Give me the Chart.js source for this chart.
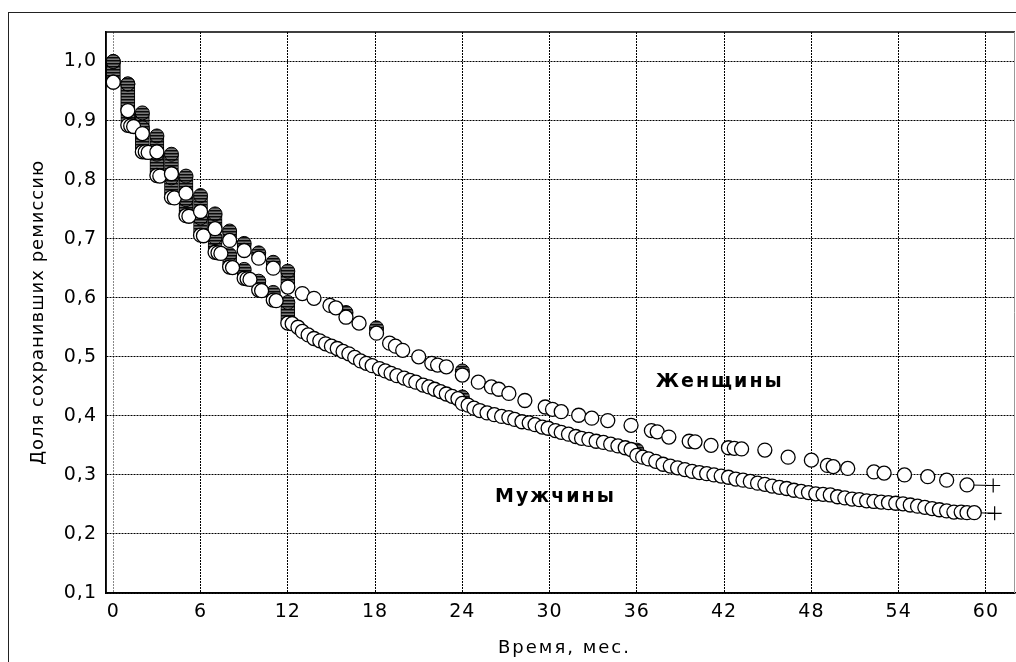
<!DOCTYPE html>
<html>
<head>
<meta charset="utf-8">
<script src="https://cdn.jsdelivr.net/npm/chart.js@4.4.0/dist/chart.umd.min.js"></script>
<style>
    html, body { margin: 0; padding: 0; background: #fff; }
    #wrap { position: relative; width: 1016px; height: 662px; overflow: hidden; }
    #frame { position: absolute; left: 8px; top: 12px; width: 2000px; height: 2000px; border: 1px solid #222; }
    canvas { position: absolute; left: 0; top: 0; }
</style>
</head>
<body>
<div id="wrap">
    <div id="frame"></div>
    <canvas id="myChart" width="1016" height="662"></canvas>
</div>
<script>
    // оси
    var xTicks = [0, 6, 12, 18, 24, 30, 36, 42, 48, 54, 60];
    var yTicks = [0.1, 0.2, 0.3, 0.4, 0.5, 0.6, 0.7, 0.8, 0.9, 1.0];

    // женщины: кружки (месяц, доля сохранивших ремиссию)
    var womenMonths = [0, 1, 2, 3, 4, 5, 6, 7, 8, 9,
        10, 11, 12, 13, 13.8, 14.9, 15.3, 16, 16.9, 18.1,
        19, 19.4, 19.9, 21, 21.9, 22.3, 22.9, 24, 25.1, 26,
        26.5, 27.2, 28.3, 29.7, 30.2, 30.8, 32, 32.9, 34, 35.6,
        37, 37.4, 38.2, 39.6, 40, 41.1, 42.3, 42.7, 43.2, 44.8,
        46.4, 48, 49.1, 49.5, 50.5, 52.3, 53, 54.4, 56, 57.3,
        58.7];
    var womenShare = [0.965, 0.917, 0.878, 0.847, 0.810, 0.777, 0.746, 0.717, 0.697, 0.680,
        0.667, 0.650, 0.618, 0.607, 0.599, 0.587, 0.583, 0.567, 0.557, 0.540,
        0.523, 0.518, 0.511, 0.500, 0.489, 0.486, 0.483, 0.469, 0.457, 0.449,
        0.445, 0.438, 0.426, 0.415, 0.411, 0.407, 0.401, 0.396, 0.392, 0.384,
        0.375, 0.373, 0.364, 0.357, 0.356, 0.350, 0.346, 0.345, 0.344, 0.342,
        0.330, 0.325, 0.316, 0.314, 0.311, 0.305, 0.303, 0.300, 0.297, 0.291,
        0.283];

    // мужчины
    var menMonths = [0, 1, 1.2, 1.4, 2, 2.2, 2.4, 3, 3.2, 4,
        4.2, 5, 5.2, 6, 6.2, 7, 7.2, 7.4, 8, 8.2,
        9, 9.2, 9.4, 10, 10.2, 11, 11.2, 12, 12.3, 12.7,
        13, 13.4, 13.8, 14.2, 14.6, 15, 15.4, 15.8, 16.2, 16.6,
        17, 17.4, 17.8, 18.3, 18.7, 19.1, 19.5, 20, 20.4, 20.8,
        21.3, 21.7, 22.1, 22.5, 22.9, 23.3, 23.7, 24, 24.4, 24.8,
        25.2, 25.7, 26.2, 26.7, 27.2, 27.6, 28.1, 28.6, 29, 29.5,
        29.9, 30.4, 30.8, 31.3, 31.8, 32.2, 32.7, 33.2, 33.7, 34.2,
        34.7, 35.2, 35.6, 36, 36.4, 36.8, 37.3, 37.8, 38.3, 38.8,
        39.3, 39.8, 40.3, 40.8, 41.3, 41.8, 42.3, 42.8, 43.3, 43.8,
        44.3, 44.8, 45.3, 45.8, 46.3, 46.8, 47.3, 47.8, 48.3, 48.8,
        49.3, 49.8, 50.3, 50.8, 51.3, 51.8, 52.3, 52.8, 53.3, 53.8,
        54.3, 54.8, 55.3, 55.8, 56.3, 56.8, 57.3, 57.8, 58.3, 58.7, 59.2];
    var menShare = [0.965, 0.892, 0.891, 0.890, 0.847, 0.847, 0.846, 0.807, 0.806, 0.770,
        0.769, 0.739, 0.738, 0.706, 0.705, 0.677, 0.676, 0.675, 0.652, 0.651,
        0.633, 0.632, 0.631, 0.613, 0.612, 0.596, 0.595, 0.557, 0.556, 0.550,
        0.543, 0.537, 0.531, 0.527, 0.522, 0.518, 0.514, 0.509, 0.505, 0.499,
        0.493, 0.489, 0.485, 0.480, 0.476, 0.472, 0.468, 0.464, 0.460, 0.457,
        0.452, 0.449, 0.445, 0.441, 0.437, 0.433, 0.429, 0.421, 0.418, 0.413,
        0.409, 0.405, 0.402, 0.399, 0.397, 0.394, 0.390, 0.388, 0.385, 0.381,
        0.379, 0.375, 0.372, 0.369, 0.365, 0.362, 0.360, 0.357, 0.355, 0.352,
        0.349, 0.346, 0.343, 0.333, 0.330, 0.327, 0.323, 0.318, 0.315, 0.312,
        0.309, 0.306, 0.304, 0.302, 0.300, 0.298, 0.296, 0.293, 0.291, 0.289,
        0.286, 0.284, 0.281, 0.279, 0.277, 0.274, 0.272, 0.270, 0.268, 0.267,
        0.266, 0.263, 0.261, 0.259, 0.258, 0.256, 0.255, 0.254, 0.253, 0.252,
        0.251, 0.249, 0.247, 0.245, 0.243, 0.241, 0.239, 0.237, 0.237, 0.236, 0.236];

    // столбики из наложенных кружков (много событий в один месяц)
    var womenStackMonths = [0, 1, 2, 3, 4, 5, 6, 7, 8, 9, 10, 11, 12, 16, 18.1, 24];
    var womenStackTop = [1.0, 0.962, 0.913, 0.874, 0.843, 0.806, 0.773, 0.742, 0.713, 0.692, 0.676, 0.660, 0.645, 0.575, 0.549, 0.476];
    var womenStackBottom = [0.965, 0.917, 0.878, 0.847, 0.810, 0.777, 0.746, 0.717, 0.697, 0.680, 0.667, 0.650, 0.618, 0.567, 0.540, 0.469];
    var menStackMonths = [0, 1, 2, 3, 4, 5, 6, 7, 8, 9, 10, 11, 12, 24, 36];
    var menStackTop = [1.0, 0.962, 0.888, 0.843, 0.803, 0.766, 0.735, 0.702, 0.673, 0.648, 0.628, 0.609, 0.592, 0.432, 0.342];
    var menStackBottom = [0.965, 0.892, 0.847, 0.807, 0.770, 0.739, 0.706, 0.677, 0.652, 0.633, 0.613, 0.596, 0.557, 0.421, 0.333];

    // цензурированные (женщины, мужчины)
    var censorMonths = [60.5, 60.6];
    var censorShare = [0.282, 0.235];

    // подписи кривых
    var noteLabels = ['Женщины', 'Мужчины'];
    var noteMonths = [41.7, 30.4];
    var noteShare = [0.457, 0.262];

    var ctx = document.getElementById('myChart');
    var c2d = ctx.getContext('2d');

    // полосатая заливка для столбиков
    var patCanvas = document.createElement('canvas');
    patCanvas.width = 4;
    patCanvas.height = 3;
    var pc = patCanvas.getContext('2d');
    pc.fillStyle = '#444';
    pc.fillRect(0, 0, 4, 3);
    pc.fillStyle = '#0a0a0a';
    pc.fillRect(0, 0, 4, 1);
    pc.fillStyle = '#777';
    pc.fillRect(0, 2, 4, 1);
    var stripes = c2d.createPattern(patCanvas, 'repeat');

    function points(xs, ys) {
        return xs.map(function (x, i) { return { x: x, y: ys[i] }; });
    }
    function ranges(xs, lo, hi) {
        return xs.map(function (x, i) { return { x: x, y: [lo[i], hi[i]] }; });
    }

    var FONT = '"DejaVu Sans", sans-serif';

    var extras = {
        id: 'extras',
        beforeDraw: function (chart) {
            chart.ctx.letterSpacing = '1px';
        },
        afterDatasetsDraw: function (chart) {
            var c = chart.ctx, xs = chart.scales.x, ys = chart.scales.y;
            c.save();
            c.font = 'bold 19px ' + FONT;
            c.letterSpacing = '2px';
            c.fillStyle = '#000';
            c.textAlign = 'center';
            c.textBaseline = 'middle';
            noteLabels.forEach(function (t, i) {
                c.fillText(t, xs.getPixelForValue(noteMonths[i]), ys.getPixelForValue(noteShare[i]));
            });
            c.restore();
        },
        afterDraw: function (chart) {
            var c = chart.ctx, a = chart.chartArea;
            c.save();
            c.letterSpacing = '0px';
            c.lineWidth = 1.5;
            c.strokeStyle = '#000';
            c.beginPath();
            c.moveTo(a.right, a.top);
            c.lineTo(a.left, a.top);
            c.lineTo(a.left, a.bottom);
            c.lineTo(a.right, a.bottom);
            c.stroke();
            c.strokeStyle = '#999';
            c.lineWidth = 1;
            c.beginPath();
            c.moveTo(a.right - 0.5, a.top);
            c.lineTo(a.right - 0.5, a.bottom);
            c.stroke();

            c.fillStyle = '#000';
            c.textAlign = 'center';
            c.textBaseline = 'middle';
            c.font = '18px ' + FONT;
            c.letterSpacing = '2px';
            c.fillText('Время, мес.', (a.left + a.right) / 2 + 4, 648);
            c.letterSpacing = '1px';
            c.translate(38, (a.top + a.bottom) / 2);
            c.rotate(-Math.PI / 2);
            c.fillText('Доля сохранивших ремиссию', 0, 0);
            c.restore();
        }
    };

    var circle = {
        pointStyle: 'circle',
        pointRadius: 7,
        pointHoverRadius: 7,
        pointBackgroundColor: '#fff',
        pointBorderColor: '#000',
        pointBorderWidth: 1.3
    };

    var myChart = new Chart(ctx, {
        type: 'scatter',
        data: {
            datasets: [
                Object.assign({ label: 'Женщины', data: points(womenMonths, womenShare), order: 0 }, circle),
                Object.assign({ label: 'Мужчины', data: points(menMonths, menShare), order: 1 }, circle),
                {
                    type: 'line', label: 'w-tail', order: 2,
                    data: [{ x: womenMonths[womenMonths.length - 1], y: womenShare[womenShare.length - 1] },
                           { x: censorMonths[0], y: censorShare[0] }],
                    borderColor: '#000', borderWidth: 1,
                    pointRadius: [0, 7], pointStyle: 'cross', pointBorderColor: '#000', pointBorderWidth: 1.2
                },
                {
                    type: 'line', label: 'm-tail', order: 2,
                    data: [{ x: menMonths[menMonths.length - 1], y: menShare[menShare.length - 1] },
                           { x: censorMonths[1], y: censorShare[1] }],
                    borderColor: '#000', borderWidth: 1,
                    pointRadius: [0, 7], pointStyle: 'cross', pointBorderColor: '#000', pointBorderWidth: 1.2
                },
                {
                    label: 'w-top', order: 3, data: points(womenStackMonths, womenStackTop),
                    pointRadius: 7, pointBackgroundColor: stripes, pointBorderColor: '#000', pointBorderWidth: 1
                },
                {
                    label: 'm-top', order: 3, data: points(menStackMonths, menStackTop),
                    pointRadius: 7, pointBackgroundColor: stripes, pointBorderColor: '#000', pointBorderWidth: 1
                },
                {
                    type: 'bar', label: 'w-stack', order: 4, grouped: false, barThickness: 14,
                    data: ranges(womenStackMonths, womenStackBottom, womenStackTop),
                    backgroundColor: stripes, borderColor: '#000',
                    borderWidth: { left: 1, right: 1, top: 0, bottom: 0 }, borderSkipped: false
                },
                {
                    type: 'bar', label: 'm-stack', order: 4, grouped: false, barThickness: 14,
                    data: ranges(menStackMonths, menStackBottom, menStackTop),
                    backgroundColor: stripes, borderColor: '#000',
                    borderWidth: { left: 1, right: 1, top: 0, bottom: 0 }, borderSkipped: false
                }
            ]
        },
        options: {
            responsive: false,
            animation: false,
            layout: { autoPadding: false, padding: { top: 32, right: 1, left: 0, bottom: 0 } },
            plugins: { legend: { display: false }, tooltip: { enabled: false } },
            scales: {
                x: {
                    type: 'linear', min: -0.5, max: 62, offset: false,
                    afterBuildTicks: function (s) { s.ticks = xTicks.map(function (v) { return { value: v }; }); },
                    afterFit: function (s) { s.height = 69; s.paddingLeft = 0; s.paddingRight = 0; },
                    ticks: { color: '#000', font: { family: FONT, size: 19 }, padding: 8, maxRotation: 0, autoSkip: false },
                    grid: {
                        offset: false, drawTicks: false, lineWidth: 1,
                        color: function (c) { return c.tick && c.tick.value === 0 ? '#888' : '#000'; }
                    },
                    border: { display: true, color: '#000', width: 1.5, dash: [2, 1] }
                },
                y: {
                    min: 0.1, max: 1.05,
                    afterBuildTicks: function (s) { s.ticks = yTicks.map(function (v) { return { value: v }; }); },
                    afterFit: function (s) { s.width = 106; s.paddingTop = 0; s.paddingBottom = 0; },
                    ticks: {
                        color: '#000', font: { family: FONT, size: 19 }, padding: 9,
                        callback: function (v) { return v.toFixed(1).replace('.', ','); }
                    },
                    grid: { drawTicks: false, lineWidth: 1, color: '#000' },
                    border: { display: true, color: '#000', width: 1.5, dash: [2, 1] }
                }
            }
        },
        plugins: [extras]
    });
</script>
</body>
</html>
